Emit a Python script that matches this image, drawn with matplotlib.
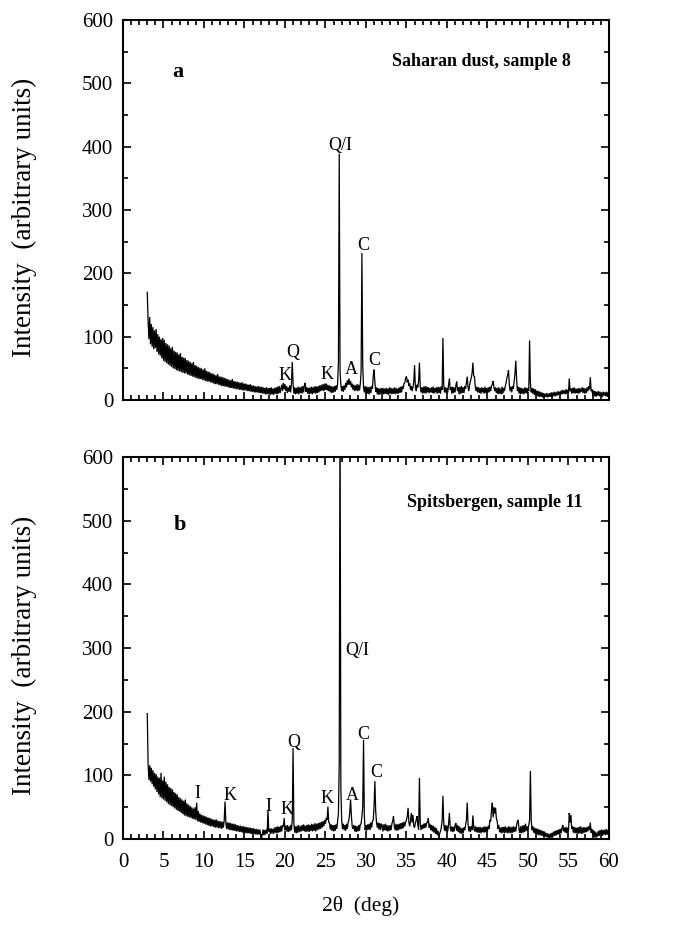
import numpy as np
import matplotlib
matplotlib.use("Agg")
import matplotlib.pyplot as plt
from matplotlib.ticker import MultipleLocator

plt.rcParams['font.family'] = ['Liberation Serif', 'DejaVu Serif']

# ---- scan grid (2theta, deg) ----
scan_start = 3.0
scan_step = 0.1

# ---- panel a: Saharan dust, sample 8 (one row per degree, 3.0 .. 60.0) ----
intensity_a = [
    170, 125, 96, 131, 88, 120, 84, 115, 80, 110,    # 3
    82, 112, 76, 104, 72, 100, 70, 96, 66, 98,       # 4
    62, 95, 60, 90, 58, 88, 56, 86, 54, 82,          # 5
    52, 84, 50, 78, 49, 76, 47, 75, 46, 72,          # 6
    45, 74, 44, 68, 43, 67, 42, 66, 42, 63,          # 7
    40, 62, 39, 60, 38, 58, 37, 60, 36, 55,          # 8
    35, 54, 34, 52, 33, 51, 33, 50, 32, 48,          # 9
    31, 50, 30, 46, 29, 45, 29, 44, 28, 42,          # 10
    27, 42, 26, 40, 25, 39, 25, 41, 24, 37,          # 11
    23, 37, 22, 36, 22, 35, 21, 34, 21, 33,          # 12
    20, 32, 19, 31, 19, 33, 18, 30, 18, 29,          # 13
    17, 29, 17, 28, 16, 27, 16, 28, 15, 26,          # 14
    15, 26, 15, 25, 14, 24, 14, 25, 13, 23,          # 15
    13, 23, 12, 22, 12, 21, 12, 22, 11, 21,          # 16
    11, 21, 10, 20, 10, 19, 9, 20, 9, 19,            # 17
    9, 19, 8, 20, 9, 18, 8, 19, 10, 20,              # 18
    9, 21, 10, 22, 11, 18, 24, 14, 27, 17,           # 19
    25, 14, 22, 11, 20, 13, 23, 12, 26, 60,          # 20
    26, 10, 20, 9, 19, 10, 21, 9, 20, 11,            # 21
    21, 10, 22, 12, 23, 27, 13, 20, 10, 19,          # 22
    9, 20, 10, 21, 9, 20, 11, 22, 10, 21,            # 23
    11, 22, 12, 23, 14, 24, 15, 25, 14, 26,          # 24
    16, 26, 15, 24, 14, 23, 12, 22, 11, 21,          # 25
    12, 22, 13, 23, 16, 26, 60, 389, 45, 24,         # 26
    14, 22, 13, 23, 16, 27, 20, 31, 24, 34,          # 27
    24, 30, 20, 26, 16, 24, 14, 23, 15, 25,          # 28
    14, 24, 15, 25, 45, 232, 55, 20, 12, 22,         # 29
    11, 21, 10, 20, 9, 21, 11, 22, 18, 38,           # 30
    48, 28, 13, 20, 9, 19, 8, 18, 9, 19,             # 31
    8, 19, 9, 18, 10, 19, 9, 18, 8, 20,              # 32
    10, 19, 9, 18, 10, 20, 9, 19, 10, 18,            # 33
    10, 20, 11, 21, 12, 22, 18, 26, 27, 35,          # 34
    37, 28, 32, 22, 26, 16, 22, 14, 20, 29,          # 35
    55, 20, 14, 24, 20, 30, 59, 22, 12, 20,          # 36
    10, 21, 11, 22, 10, 21, 12, 20, 11, 19,          # 37
    12, 20, 11, 21, 10, 19, 12, 20, 10, 21,          # 38
    11, 20, 10, 21, 16, 98, 24, 12, 20, 11,          # 39
    19, 12, 24, 34, 16, 20, 10, 21, 11, 20,          # 40
    12, 23, 29, 14, 20, 9, 21, 10, 22, 11,           # 41
    20, 11, 22, 18, 28, 37, 20, 14, 24, 30,          # 42
    35, 42, 59, 38, 37, 20, 14, 21, 12, 20,          # 43
    11, 19, 10, 20, 12, 19, 10, 21, 11, 19,          # 44
    11, 20, 12, 21, 14, 22, 25, 30, 20, 14,          # 45
    20, 11, 19, 9, 20, 10, 18, 9, 21, 10,            # 46
    19, 14, 22, 27, 35, 40, 47, 24, 14, 21,          # 47
    12, 22, 18, 30, 42, 62, 32, 14, 21, 10,          # 48
    20, 9, 19, 10, 18, 9, 20, 11, 19, 10,            # 49
    19, 14, 94, 26, 12, 19, 10, 18, 8, 17,           # 50
    7, 15, 6, 14, 5, 13, 5, 12, 4, 11,               # 51
    4, 10, 5, 11, 4, 10, 5, 11, 5, 12,               # 52
    5, 12, 6, 13, 6, 12, 7, 14, 8, 13,               # 53
    8, 15, 9, 16, 10, 15, 9, 17, 10, 16,             # 54
    11, 34, 14, 18, 10, 19, 11, 20, 10, 18,          # 55
    11, 18, 10, 19, 11, 18, 13, 20, 11, 19,          # 56
    10, 18, 11, 20, 14, 22, 17, 36, 14, 17,          # 57
    7, 15, 6, 14, 5, 13, 7, 14, 6, 13,               # 58
    6, 12, 5, 13, 7, 12, 6, 13, 5, 12,               # 59
    8,                                               # 60
]

# ---- panel b: Spitsbergen, sample 11 ----
intensity_b = [
    197, 119, 93, 116, 90, 112, 86, 108, 82, 104,    # 3
    78, 102, 74, 98, 70, 96, 66, 104, 64, 92,        # 4
    62, 98, 60, 90, 58, 86, 55, 82, 53, 80,          # 5
    52, 78, 50, 74, 48, 72, 46, 70, 44, 66,          # 6
    43, 64, 41, 62, 39, 60, 37, 62, 36, 56,          # 7
    35, 54, 34, 52, 33, 50, 32, 48, 31, 50,          # 8
    30, 57, 28, 44, 27, 40, 26, 38, 25, 37,          # 9
    24, 36, 23, 35, 22, 34, 21, 33, 20, 32,          # 10
    20, 31, 19, 30, 18, 31, 18, 29, 17, 28,          # 11
    17, 28, 16, 27, 18, 30, 59, 26, 16, 26,          # 12
    15, 26, 14, 25, 14, 24, 13, 24, 13, 23,          # 13
    12, 22, 12, 21, 11, 21, 11, 20, 10, 20,          # 14
    10, 19, 9, 19, 9, 18, 9, 18, 8, 17,              # 15
    8, 17, 8, 16, 7, 16, 7, 15, 7, 15,               # 16
    6, 1, 7, 15, 6, 14, 7, 15, 9, 46,                # 17
    12, 16, 8, 17, 9, 16, 8, 18, 10, 19,             # 18
    9, 20, 10, 19, 11, 21, 12, 22, 19, 33,           # 19
    14, 21, 12, 22, 11, 20, 12, 22, 14, 30,          # 20
    143, 24, 10, 20, 9, 21, 10, 22, 11, 20,          # 21
    12, 22, 13, 23, 12, 21, 11, 22, 12, 23,          # 22
    11, 22, 13, 24, 12, 23, 13, 25, 12, 24,          # 23
    14, 25, 15, 26, 16, 27, 18, 28, 20, 30,          # 24
    24, 33, 30, 51, 26, 25, 15, 23, 13, 22,          # 25
    12, 22, 13, 23, 16, 28, 40, 120, 700, 80,        # 26
    30, 16, 24, 14, 22, 13, 24, 16, 26, 30,          # 27
    42, 62, 36, 20, 16, 22, 12, 21, 11, 20,          # 28
    12, 22, 13, 23, 24, 36, 50, 156, 36, 14,         # 29
    22, 13, 23, 15, 24, 14, 26, 18, 28, 30,          # 30
    52, 91, 44, 26, 18, 26, 15, 25, 14, 24,          # 31
    22, 12, 23, 14, 24, 13, 22, 12, 21, 13,          # 32
    22, 14, 24, 28, 36, 20, 14, 24, 13, 23,          # 33
    14, 24, 15, 25, 16, 26, 17, 27, 20, 27,          # 34
    30, 36, 49, 26, 20, 28, 41, 26, 38, 20,          # 35
    18, 25, 30, 36, 22, 15, 96, 26, 14, 22,          # 36
    16, 24, 17, 25, 18, 26, 26, 33, 18, 24,          # 37
    14, 22, 12, 21, 10, 19, 8, 17, 6, 13,            # 38
    2, 9, 12, 18, 28, 68, 26, 13, 22, 12,            # 39
    21, 12, 24, 41, 18, 12, 20, 11, 19, 12,          # 40
    22, 25, 13, 22, 11, 20, 9, 18, 8, 17,            # 41
    9, 18, 14, 22, 30, 57, 24, 12, 20, 11,           # 42
    20, 14, 37, 20, 12, 20, 11, 19, 10, 19,          # 43
    10, 19, 9, 18, 11, 19, 10, 20, 11, 19,           # 44
    12, 21, 16, 30, 28, 46, 57, 34, 50, 40,          # 45
    49, 32, 28, 16, 22, 11, 18, 9, 19, 10,           # 46
    19, 9, 20, 10, 18, 9, 20, 10, 19, 9,             # 47
    19, 10, 20, 11, 19, 12, 22, 28, 30, 14,          # 48
    10, 20, 9, 21, 10, 22, 11, 24, 13, 20,           # 49
    12, 22, 30, 107, 30, 14, 20, 10, 18, 8,          # 50
    17, 7, 16, 6, 15, 6, 14, 5, 13, 5,               # 51
    12, 4, 10, 3, 9, 2, 8, 1, 9, 3,                  # 52
    10, 4, 12, 5, 13, 6, 14, 7, 15, 8,               # 53
    16, 9, 17, 22, 12, 18, 10, 19, 9, 18,            # 54
    12, 41, 26, 38, 16, 20, 10, 19, 9, 18,           # 55
    9, 18, 8, 19, 9, 20, 8, 18, 9, 19,               # 56
    10, 18, 11, 19, 12, 20, 14, 26, 10, 16,          # 57
    6, 14, 3, 12, 2, 10, 4, 13, 5, 14,               # 58
    6, 15, 5, 14, 7, 15, 6, 16, 7, 14,               # 59
    9,                                               # 60
]

# ---- peak labels: (text, 2theta, intensity) ----
labels_a_text = ["K", "Q", "K", "Q/I", "A", "C", "C"]
labels_a_x = [20.0, 21.0, 25.2, 26.8, 28.2, 29.7, 31.0]
labels_a_y = [39, 75, 41, 402, 48, 244, 63]

labels_b_text = ["I", "K", "I", "K", "Q", "K", "Q/I", "A", "C", "C"]
labels_b_x = [9.2, 13.2, 18.0, 20.2, 21.1, 25.2, 28.9, 28.3, 29.7, 31.3]
labels_b_y = [72, 68, 51, 47, 152, 64, 296, 68, 164, 104]

panel_letters = ["a", "b"]
panel_titles = ["Saharan dust, sample 8", "Spitsbergen, sample 11"]

x_ticks = list(range(0, 61, 5))
y_ticks = list(range(0, 601, 100))

fig = plt.figure(figsize=(6.87, 9.30), dpi=100)
ax_a = fig.add_axes([0.179, 0.5699, 0.7074, 0.4086])
ax_b = fig.add_axes([0.179, 0.0978, 0.7074, 0.4108])

panels = [
    (ax_a, intensity_a, labels_a_text, labels_a_x, labels_a_y),
    (ax_b, intensity_b, labels_b_text, labels_b_x, labels_b_y),
]

for i, (ax, inten, lt, lx, ly) in enumerate(panels):
    inten = np.asarray(inten, dtype=float)
    tt = scan_start + scan_step * np.arange(len(inten))
    ax.plot(tt, inten, color='black', lw=0.9, solid_joinstyle='miter')
    ax.set_xlim(0, 60)
    ax.set_ylim(0, 600)
    ax.set_xticks(x_ticks)
    ax.set_yticks(y_ticks)
    ax.xaxis.set_minor_locator(MultipleLocator(1))
    ax.yaxis.set_minor_locator(MultipleLocator(50))
    ax.tick_params(which='both', direction='in', top=True, right=True,
                   width=1.2, labelsize=15)
    ax.tick_params(axis='y', pad=7)
    ax.tick_params(axis='x', pad=10)
    ax.tick_params(which='major', length=6)
    ax.tick_params(which='minor', length=3.5)
    for sp in ax.spines.values():
        sp.set_linewidth(1.5)
    ax.set_ylabel("Intensity  (arbitrary units)", fontsize=19.5)
    ax.yaxis.set_label_coords(-0.177, 0.48)
    for t, x, y in zip(lt, lx, ly):
        ax.text(x, y, t, fontsize=13, ha='center', va='center')
    ax.text(0.112 if i == 0 else 0.118, 0.863 if i == 0 else 0.823,
            panel_letters[i], transform=ax.transAxes,
            fontsize=16, fontweight='bold', ha='center', va='center')
    ax.text(0.921 if i == 0 else 0.945, 0.89 if i == 0 else 0.882,
            panel_titles[i], transform=ax.transAxes,
            fontsize=13, fontweight='bold', ha='right', va='center')

ax_a.tick_params(labelbottom=False)
ax_b.set_xlabel("2θ  (deg)", fontsize=15.5)
ax_b.xaxis.set_label_coords(0.49, -0.15)

fig.savefig("out.png", dpi=100)
